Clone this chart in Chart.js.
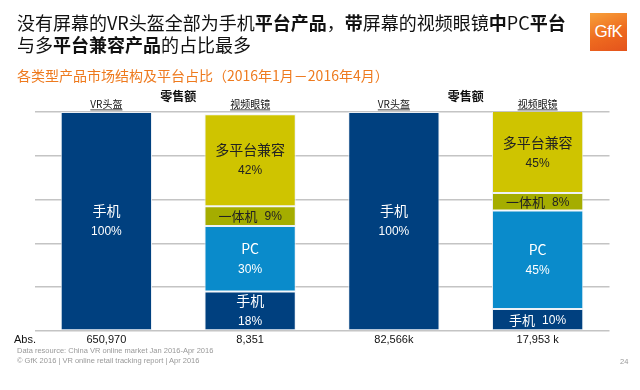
<!DOCTYPE html>
<html><head><meta charset="utf-8">
<script src="https://cdn.jsdelivr.net/npm/chart.js@4.4.0/dist/chart.umd.min.js"></script>
<style>
body{margin:0;background:#fff;font-family:"Liberation Sans","Noto Sans CJK SC",sans-serif;}
#wrap{position:relative;width:640px;height:390px;overflow:hidden;}
canvas{position:absolute;left:0;top:0;}
.t{position:absolute;white-space:nowrap;}
#title{left:17px;top:11px;font-size:18px;line-height:22px;color:#111;font-family:"Noto Sans CJK SC",sans-serif;}
#title b{font-weight:700;}
#sub{left:17px;top:65px;font-size:14px;color:#EE7A1E;font-family:"Noto Sans CJK SC",sans-serif;}
#logo{left:590px;top:13px;width:37px;height:38px;background:linear-gradient(160deg,#F7A13A 0%,#EE6A1F 55%,#E4531C 100%);color:#fff;font-size:17px;line-height:38px;text-align:center;letter-spacing:-0.5px;}
#f1{left:17px;top:346px;font-size:7.5px;color:#999;}
#f2{left:17px;top:356px;font-size:7.5px;color:#999;}
#pg{left:620px;top:357px;font-size:7.5px;color:#999;}
</style></head>
<body><div id="wrap">
<canvas id="c" width="640" height="390"></canvas>
<div class="t" id="title">没有屏幕的VR头盔全部为手机<b>平台产品</b>，<b>带</b>屏幕的视频眼镜<b>中</b>PC<b>平台</b><br>与多<b>平台兼容产品</b>的占比最多</div>
<div class="t" id="sub">各类型产品市场结构及平台占比（2016年1月－2016年4月）</div>
<div class="t" id="logo">GfK</div>
<div class="t" id="f1">Data resource: China VR online market Jan 2016-Apr 2016</div>
<div class="t" id="f2">© GfK 2016 | VR online retail tracking report | Apr 2016</div>
<div class="t" id="pg">24</div>
</div>
<script>
const categories = ['VR头盔', '视频眼镜', 'VR头盔', '视频眼镜'];
const groupTitle = '零售额';
const absLabel = 'Abs.';
const absValues = ['650,970', '8,351', '82,566k', '17,953 k'];
const seriesNames = ['手机', 'PC', '一体机', '多平台兼容'];
const mobile = [100, 18, 100, 10];
const pc = [null, 30, null, 45];
const allInOne = [null, 9, null, 8];
const multi = [null, 42, null, 45];

const colors = ['#00407F', '#0A8BCB', '#A5AD00', '#CFC400'];
const textColors = ['#ffffff', '#ffffff', '#222222', '#222222'];
const seriesData = [mobile, pc, allInOne, multi];

const CJK = '"Noto Sans CJK SC", sans-serif';
const LAT = '"Liberation Sans", "Noto Sans CJK SC", sans-serif';

const labelPlugin = {
  id: 'labels',
  afterDatasetsDraw(chart) {
    const ctx = chart.ctx, area = chart.chartArea;
    ctx.save();
    ctx.textAlign = 'center';
    ctx.textBaseline = 'middle';
    chart.data.datasets.forEach((ds, di) => {
      const meta = chart.getDatasetMeta(di);
      meta.data.forEach((el, i) => {
        const v = ds.data[i];
        if (v == null) return;
        const top = Math.max(Math.min(el.y, el.base), area.top);
        const bot = Math.min(Math.max(el.y, el.base), area.bottom);
        const cy = (top + bot) / 2;
        const h = bot - top;
        ctx.fillStyle = textColors[di];
        const name = seriesNames[di], pct = v + '%';
        if (h < 30) {
          ctx.font = '13px ' + CJK;
          const w1 = ctx.measureText(name).width;
          ctx.font = '12px ' + LAT;
          const w2 = ctx.measureText(pct).width;
          const gap = 7, tot = w1 + gap + w2;
          const x0 = el.x - tot / 2;
          ctx.textAlign = 'left';
          ctx.font = '13px ' + CJK;
          ctx.fillText(name, x0, cy);
          ctx.font = '12px ' + LAT;
          ctx.fillText(pct, x0 + w1 + gap, cy + 1);
          ctx.textAlign = 'center';
        } else {
          ctx.font = '14px ' + CJK;
          ctx.fillText(name, el.x, cy - 10);
          ctx.font = '12px ' + LAT;
          ctx.fillText(pct, el.x, cy + 11);
        }
      });
    });
    // headers
    const xs = chart.scales.x;
    ctx.fillStyle = '#111';
    ctx.font = '10px ' + CJK;
    ctx.textBaseline = 'alphabetic';
    categories.forEach((c, i) => {
      const x = xs.getPixelForValue(i);
      ctx.fillText(c, x, 108);
      const w = ctx.measureText(c).width;
      ctx.fillRect(x - w / 2, 109.5, w, 0.8);
    });
    ctx.font = 'bold 12px ' + CJK;
    [0, 2].forEach(i => {
      const x = (xs.getPixelForValue(i) + xs.getPixelForValue(i + 1)) / 2;
      ctx.fillText(groupTitle, x, 101);
    });
    // abs row
    ctx.font = '11px ' + LAT;
    ctx.textBaseline = 'middle';
    absValues.forEach((a, i) => ctx.fillText(a, xs.getPixelForValue(i), 340));
    ctx.textAlign = 'left';
    ctx.fillText(absLabel, 14, 340);
    ctx.restore();
  }
};

new Chart(document.getElementById('c'), {
  type: 'bar',
  data: {
    labels: categories,
    datasets: seriesData.map((d, i) => ({
      label: seriesNames[i],
      data: d,
      backgroundColor: colors[i],
      borderColor: 'rgba(235,240,245,0.9)',
      borderWidth: 1,
      borderSkipped: false,
      barPercentage: 0.635,
      categoryPercentage: 1
    }))
  },
  options: {
    responsive: false,
    animation: false,
    layout: { padding: { left: 34.5, right: 30.5, top: 112, bottom: 59 } },
    plugins: { legend: { display: false }, tooltip: { enabled: false } },
    scales: {
      x: { stacked: true, display: false },
      y: {
        stacked: true, min: 0, max: 100,
        ticks: { display: false, stepSize: 20 },
        border: { display: false },
        grid: { color: '#c4c4c4', lineWidth: 1.5, drawTicks: false }
      }
    }
  },
  plugins: [labelPlugin]
});
</script>
</body></html>
